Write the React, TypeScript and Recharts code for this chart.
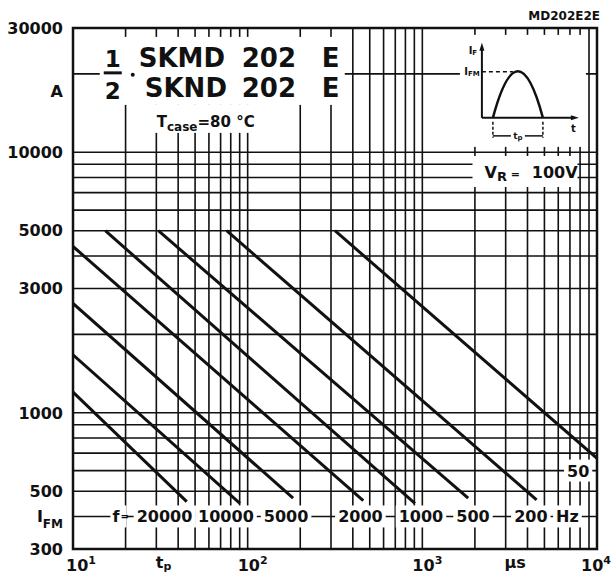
// Pulse current capability chart for 1/2 SKMD 202 E / SKND 202 E (log-log paper).
// Straight lines: I_FM versus pulse width t_p, one line per pulse frequency f.
import { LineChart, Line, XAxis, YAxis, CartesianGrid, ReferenceArea, ReferenceDot } from "recharts";

const FONT = "'DejaVu Sans', 'Liberation Sans', sans-serif";
const INK = "#111";

// log paper rulings
const xGrid = [
  10, 20, 30, 40, 50, 60, 70, 80, 90,
  100, 200, 300, 400, 500, 600, 700, 800, 900,
  1000, 2000, 3000, 4000, 5000, 6000, 7000, 8000, 9000, 10000,
];
const yGrid = [
  300, 400, 500, 600, 700, 800, 900,
  1000, 2000, 3000, 4000, 5000, 6000, 7000, 8000, 9000,
  10000, 20000, 30000,
];
const xLabeled = [10, 100, 1000, 10000];
const yLabeled = [300, 500, 1000, 3000, 5000, 10000, 30000];

// one straight line per frequency: start and end (t_p in µs, I_FM in A)
const freqs = ["20000", "10000", "5000", "2000", "1000", "500", "200", "50"];
const tpStart = [10, 10, 10, 10, 15.3, 30.8, 75.8, 316];
const ifmStart = [1200, 1670, 2630, 4350, 5000, 5000, 5000, 5000];
const tpEnd = [44.8, 90.3, 182, 459, 907, 1830, 4510, 10000];
const ifmEnd = [456, 449, 470, 460, 449, 470, 463, 669];

// frequency labels written along the 400 A ruling
const fLabelText = ["20000", "10000", "5000", "2000", "1000", "500", "200", "Hz"];
const fLabelAt = [33.4, 75.1, 166, 442, 982, 1950, 4180, 6770];

const series = freqs.map((f, i) => ({
  f,
  data: [
    { t: tpStart[i], i: ifmStart[i] },
    { t: tpEnd[i], i: ifmEnd[i] },
  ],
}));

const charW: Record<string, number> = { H: 0.837, z: 0.58, f: 0.435, " ": 0.348 };
const textW = (s: string, size: number) =>
  s.split("").reduce((a, c) => a + (charW[c] ?? 0.696), 0) * size;

const txt = { fontFamily: FONT, fontWeight: 700, fill: INK } as const;

function XTick({ x, y, payload }: any) {
  const v = payload.value;
  if (!xLabeled.includes(v)) return <g />;
  const exp = Math.round(Math.log10(v));
  const dx = v === 10 ? 8 : v === 10000 ? -1 : 5;
  return (
    <text x={x + dx} y={y + 22} textAnchor="middle" fontSize={16} {...txt}>
      <tspan>10</tspan>
      <tspan dy={-7} fontSize={11}>{exp}</tspan>
    </text>
  );
}

function YTick({ x, y, payload }: any) {
  const v = payload.value;
  if (!yLabeled.includes(v)) return <g />;
  return (
    <text x={x - 10} y={y} dy="0.36em" textAnchor="end" fontSize={16} {...txt}>
      {v}
    </text>
  );
}

function TitleBox({ cx, cy }: any) {
  return (
    <g {...txt}>
      <rect x={cx - 4} y={cy - 37} width={245} height={68} fill="#fff" />
      <rect x={cx + 36} y={cy + 31} width={130} height={28} fill="#fff" />
      <line x1={cx} x2={cx + 18} y1={cy - 1} y2={cy - 1} stroke={INK} strokeWidth={3} />
      <text x={cx + 9} y={cy - 7} fontSize={23} textAnchor="middle">1</text>
      <text x={cx + 9} y={cy + 25} fontSize={23} textAnchor="middle">2</text>
      <circle cx={cx + 29} cy={cy + 1} r={2} />
      <text x={cx + 35} y={cy - 7} fontSize={26}>SKMD</text>
      <text x={cx + 138} y={cy - 7} fontSize={26}>202</text>
      <text x={cx + 218} y={cy - 7} fontSize={26}>E</text>
      <text x={cx + 41} y={cy + 23} fontSize={26}>SKND</text>
      <text x={cx + 138} y={cy + 23} fontSize={26}>202</text>
      <text x={cx + 218} y={cy + 23} fontSize={26}>E</text>
      <text x={cx + 53} y={cy + 53} fontSize={15}>
        <tspan>T</tspan>
        <tspan dy={4} fontSize={12}>case</tspan>
        <tspan dy={-4}>=80 °C</tspan>
      </text>
    </g>
  );
}

function PulseInset({ cx, cy }: any) {
  const b = cy + 44;
  return (
    <g {...txt}>
      <rect x={cx} y={cy - 39} width={126} height={112} fill="#fff" />
      <line x1={cx + 22} x2={cx + 22} y1={b} y2={cy - 27} stroke={INK} strokeWidth={2} />
      <polygon points={`${cx + 22},${cy - 31} ${cx + 19.5},${cy - 23} ${cx + 24.5},${cy - 23}`} />
      <line x1={cx + 22} x2={cx + 114} y1={b} y2={b} stroke={INK} strokeWidth={2} />
      <polygon points={`${cx + 119},${b} ${cx + 111},${b - 2.5} ${cx + 111},${b + 2.5}`} />
      <path d={`M ${cx + 33} ${b} Q ${cx + 58} ${cy - 49} ${cx + 83} ${b}`} fill="none" stroke={INK} strokeWidth={2.5} />
      <line x1={cx + 22} x2={cx + 53} y1={cy - 2} y2={cy - 2} stroke={INK} strokeWidth={1.5} strokeDasharray="4 3" />
      <text x={cx + 12} y={cy + 1} fontSize={10} textAnchor="middle">
        I<tspan dy={1} fontSize={7}>FM</tspan>
      </text>
      <text x={cx + 13} y={cy - 20} fontSize={10} textAnchor="middle">
        I<tspan dy={1} fontSize={7}>F</tspan>
      </text>
      <text x={cx + 111} y={cy + 58} fontSize={10}>t</text>
      <line x1={cx + 33} x2={cx + 33} y1={b + 4} y2={b + 20} stroke={INK} strokeWidth={1.5} strokeDasharray="3 2" />
      <line x1={cx + 83} x2={cx + 83} y1={b + 4} y2={b + 20} stroke={INK} strokeWidth={1.5} strokeDasharray="3 2" />
      <line x1={cx + 33} x2={cx + 51} y1={b + 18} y2={b + 18} stroke={INK} strokeWidth={1.5} />
      <line x1={cx + 65} x2={cx + 83} y1={b + 18} y2={b + 18} stroke={INK} strokeWidth={1.5} />
      <text x={cx + 58} y={b + 21} fontSize={9} textAnchor="middle">
        t<tspan dy={1} fontSize={7}>p</tspan>
      </text>
    </g>
  );
}

function VrBox({ cx, cy }: any) {
  return (
    <g {...txt}>
      <rect x={cx - 55} y={cy - 15.5} width={105} height={31} fill="#fff" />
      <text x={cx - 43} y={cy + 6.5} fontSize={16}>
        <tspan>V</tspan>
        <tspan dy={3} fontSize={13}>R</tspan>
        <tspan dy={-3} fontSize={11}> = </tspan>
        <tspan dx={8}>100V</tspan>
      </text>
    </g>
  );
}

function BoxedLabel({ cx, cy, label }: any) {
  const w = textW(label, 16) + 6;
  return (
    <g {...txt}>
      <rect x={cx - w / 2} y={cy - 11} width={w} height={22} fill="#fff" />
      <text x={cx} y={cy + 6} fontSize={16} textAnchor="middle">{label}</text>
    </g>
  );
}

function FEquals({ cx, cy }: any) {
  return (
    <g {...txt}>
      <rect x={cx - 8} y={cy - 11} width={16} height={22} fill="#fff" />
      <text x={cx - 6} y={cy + 6} fontSize={16}>
        f<tspan fontSize={10} dx={1} dy={-2}>=</tspan>
      </text>
    </g>
  );
}

function AxisUnit({ cx, cy, label, sub, side }: any) {
  if (side === "left") {
    return (
      <text x={cx - 10} y={cy + 6} textAnchor="end" fontSize={16} {...txt}>
        {label}
        {sub ? <tspan dy={6} fontSize={12}>{sub}</tspan> : null}
      </text>
    );
  }
  return (
    <text x={cx} y={cy + 19} textAnchor="middle" fontSize={16} {...txt}>
      {label}
      {sub ? <tspan dy={2} fontSize={11}>{sub}</tspan> : null}
    </text>
  );
}

export default function App() {
  return (
    <div style={{ position: "absolute", left: 0, top: 0, width: 614, height: 574, background: "#fff" }}>
      <LineChart width={614} height={574} margin={{ top: 28, right: 17, bottom: 0, left: 0 }}>
        <CartesianGrid stroke={INK} strokeWidth={1.6} />
        <XAxis
          type="number"
          dataKey="t"
          scale="log"
          domain={[10, 10000]}
          ticks={xGrid}
          interval={0}
          allowDataOverflow
          axisLine={false}
          tickLine={false}
          tickSize={0}
          tickMargin={0}
          height={25}
          tick={<XTick />}
        />
        <YAxis
          type="number"
          scale="log"
          domain={[300, 30000]}
          ticks={yGrid}
          interval={0}
          allowDataOverflow
          axisLine={false}
          tickLine={false}
          tickSize={0}
          tickMargin={0}
          width={73}
          tick={<YTick />}
        />
        <ReferenceArea x1={10} x2={10000} y1={300} y2={30000} fill="none" stroke={INK} strokeWidth={2.5} />

        <ReferenceDot x={15} y={20000} r={0} shape={(p: any) => <TitleBox {...p} />} />
        <ReferenceDot x={1641} y={20000} r={0} shape={(p: any) => <PulseInset {...p} />} />
        <ReferenceDot x={4000} y={8440} r={0} shape={(p: any) => <VrBox {...p} />} />
        <ReferenceDot x={7800} y={600} r={0} shape={(p: any) => <BoxedLabel {...p} label="50" />} />
        <ReferenceDot x={18.2} y={400} r={0} shape={(p: any) => <FEquals {...p} />} />
        {fLabelText.map((s, i) => (
          <ReferenceDot key={s} x={fLabelAt[i]} y={400} r={0} shape={(p: any) => <BoxedLabel {...p} label={s} />} />
        ))}
        <ReferenceDot x={10} y={17200} r={0} shape={(p: any) => <AxisUnit {...p} side="left" label="A" />} />
        <ReferenceDot x={10} y={400} r={0} shape={(p: any) => <AxisUnit {...p} side="left" label="I" sub="FM" />} />
        <ReferenceDot x={33} y={300} r={0} shape={(p: any) => <AxisUnit {...p} label="t" sub="p" />} />
        <ReferenceDot x={3400} y={300} r={0} shape={(p: any) => <AxisUnit {...p} label="µs" />} />
        <ReferenceDot
          x={10000}
          y={30000}
          r={0}
          shape={(p: any) => (
            <text x={p.cx + 3} y={p.cy - 8} textAnchor="end" fontSize={12} {...txt}>MD202E2E</text>
          )}
        />

        {series.map((s) => (
          <Line
            key={s.f}
            name={s.f}
            data={s.data}
            dataKey="i"
            stroke={INK}
            strokeWidth={3}
            dot={false}
            activeDot={false}
            isAnimationActive={false}
          />
        ))}
      </LineChart>
    </div>
  );
}
